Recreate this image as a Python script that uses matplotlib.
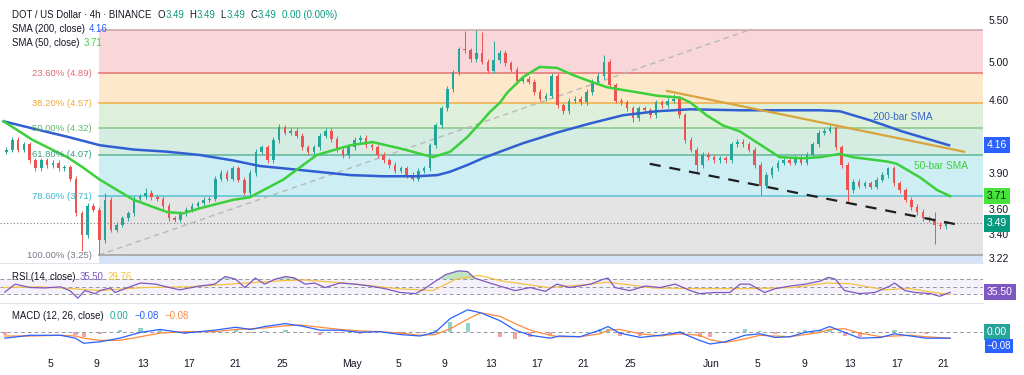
import numpy as np
import matplotlib
matplotlib.use("Agg")
import matplotlib.pyplot as plt
from matplotlib.transforms import blended_transform_factory

plt.rcParams['font.family'] = ['Liberation Sans', 'DejaVu Sans']

# ---------------- data ----------------
# half-day candles, day 0 = 1 April
closes = [4.12, 4.21, 4.12, 4.17, 4.02, 3.95, 4.02, 3.98, 4.00, 3.95,
          3.96, 3.86, 3.57, 3.40, 3.63, 3.60, 3.36, 3.68, 3.44, 3.48,
          3.53, 3.57, 3.69, 3.71, 3.74, 3.70, 3.69, 3.63, 3.53, 3.52,
          3.57, 3.60, 3.63, 3.65, 3.68, 3.69, 3.86, 3.91, 3.86, 3.95,
          3.85, 3.74, 3.91, 4.10, 4.14, 4.02, 4.21, 4.33, 4.28, 4.30,
          4.25, 4.14, 4.10, 4.14, 4.25, 4.30, 4.22, 4.12, 4.07, 4.14,
          4.21, 4.23, 4.16, 4.14, 4.07, 4.02, 3.98, 3.93, 3.95, 3.89,
          3.86, 3.93, 3.95, 4.16, 4.35, 4.52, 4.72, 4.90, 5.16, 5.15,
          5.05, 5.12, 5.02, 4.92, 5.04, 5.12, 5.00, 4.93, 4.81, 4.83,
          4.80, 4.69, 4.62, 4.65, 4.86, 4.55, 4.49, 4.60, 4.62, 4.58,
          4.69, 4.80, 4.86, 5.02, 4.76, 4.60, 4.58, 4.52, 4.42, 4.52,
          4.50, 4.45, 4.58, 4.55, 4.60, 4.62, 4.45, 4.21, 4.12, 3.98,
          4.07, 4.05, 4.02, 4.04, 4.02, 4.17, 4.19, 4.17, 4.12, 3.98,
          3.80, 3.89, 3.95, 4.00, 4.02, 4.00, 4.05, 4.00, 4.07, 4.17,
          4.28, 4.30, 4.32, 4.14, 3.98, 3.76, 3.83, 3.80, 3.82, 3.79,
          3.85, 3.89, 3.95, 3.82, 3.76, 3.68, 3.62, 3.58, 3.53, 3.52,
          3.48, 3.47, 3.49]
first_open = 4.10
wick_high = {1: 4.24, 17: 3.74, 24: 3.78, 39: 3.97, 47: 4.36, 61: 4.26,
             79: 5.38, 81: 5.39, 82: 5.37, 84: 5.26, 103: 5.10, 115: 4.67,
             142: 4.35, 152: 3.96, 160: 3.58}
wick_low = {13: 3.28, 16: 3.25, 18: 3.42, 108: 4.38, 119: 3.92, 130: 3.72,
            145: 3.65, 160: 3.33}

sma200_day = [0, 2.5, 5.5, 8.3, 11.2, 14.1, 16.9, 19.8, 22.1, 24.1, 27.0, 29.9,
              32.7, 35.6, 37.4, 38.5, 40.0, 41.3, 42.8, 44.8, 47.7, 50.6, 53.4,
              56.3, 59.2, 63.5, 66.1, 70.4, 72.1, 74.7, 77.5, 81.5]
sma200_val = [4.39, 4.32, 4.24, 4.16, 4.12, 4.10, 4.07, 4.02, 3.97, 3.95, 3.92, 3.89,
              3.88, 3.88, 3.89, 3.92, 3.98, 4.04, 4.10, 4.18, 4.28, 4.37, 4.45,
              4.49, 4.51, 4.50, 4.50, 4.50, 4.49, 4.40, 4.29, 4.16]
sma50_day = [0, 2.5, 5.5, 6.8, 8.3, 11.2, 14.1, 15.5, 16.9, 19.8, 21.2, 24.1,
             27.0, 29.9, 31.8, 34.2, 37.0, 38.5, 40.0, 41.3, 41.9, 42.8, 43.4,
             44.8, 46.2, 47.7, 49.1, 50.6, 52.0, 53.4, 54.9, 56.3, 58.3, 59.2,
             60.6, 62.0, 63.5, 64.6, 66.9, 68.9, 70.4, 72.1, 73.2, 76.2, 77.0,
             79.0, 80.5, 81.6]
sma50_val = [4.39, 4.21, 4.05, 3.96, 3.85, 3.68, 3.58, 3.57, 3.61, 3.68, 3.70, 3.85,
             4.07, 4.16, 4.19, 4.13, 4.05, 4.10, 4.24, 4.40, 4.48, 4.58, 4.68,
             4.85, 4.96, 4.95, 4.87, 4.80, 4.74, 4.71, 4.68, 4.65, 4.63, 4.58,
             4.45, 4.35, 4.29, 4.21, 4.05, 4.04, 4.05, 4.08, 4.05, 4.01, 3.99,
             3.87, 3.76, 3.71]

fib_ratio = ["0.00%", "23.60%", "38.20%", "50.00%", "61.80%", "78.60%", "100.00%"]
fib_price = [5.39, 4.89, 4.57, 4.32, 4.07, 3.71, 3.25]
fib_start_day = 8.2

resistance_day = [57.2, 82.8]
resistance_price = [4.70, 4.10]
support_day = [55.7, 82.0]
support_price = [3.99, 3.485]
rising_day = [8.2, 64.5]
rising_price = [3.25, 5.40]
last_price = 3.49

rsi_day = [0.1, 1.0, 2.3, 3.6, 4.9, 5.7, 6.4, 7.0, 7.9, 8.3, 9.2, 9.6, 10.9, 11.8,
           13.1, 14.3, 15.2, 16.9, 18.2, 19.1, 20.0, 20.8, 21.7, 22.5, 23.4, 24.3,
           25.1, 26.0, 26.8, 27.7, 29.0, 30.3, 31.6, 32.9, 34.2, 35.5, 36.3, 37.0,
           38.1, 39.2, 40.0, 40.6, 41.9, 43.2, 44.1, 45.4, 46.7, 47.7, 48.8, 50.6,
           51.7, 52.1, 52.7, 54.0, 55.3, 56.6, 57.9, 59.2, 60.0, 61.3, 62.6, 63.5,
           64.3, 65.6, 66.5, 67.8, 69.1, 70.4, 71.1, 71.7, 72.5, 73.8, 75.1, 76.4,
           76.8, 77.7, 78.6, 79.9, 80.7, 81.6]
rsi_val = [36, 57, 48, 47, 50, 40, 20, 40, 32, 40, 47, 35, 50, 60,
           57, 48, 42, 52, 57, 77, 70, 48, 73, 57, 70, 77,
           73, 57, 60, 48, 60, 57, 52, 45, 35, 32, 45, 60,
           82, 92, 90, 73, 60, 48, 40, 48, 38, 57, 48, 57,
           70, 73, 48, 40, 52, 48, 57, 40, 32, 35, 35, 57,
           57, 35, 45, 52, 57, 65, 75, 70, 40, 32, 35, 52,
           60, 40, 35, 32, 25, 35.5]
rsi_ma_day = [0, 3, 6, 8.3, 12, 16, 20, 24, 26, 30, 34, 37, 39, 41, 43, 47, 50,
              52, 54, 56, 60, 64, 68, 71, 73, 76, 78, 80, 81.6]
rsi_ma_val = [48, 50, 45, 40, 48, 50, 58, 66, 68, 58, 45, 40, 70, 80, 65, 48, 55,
              62, 55, 47, 45, 45, 48, 60, 58, 42, 46, 36, 29.76]

macd_day = [0.1, 2.3, 4.9, 6.2, 6.9, 8.3, 10.0, 11.8, 13.5, 15.6, 18.2, 20.0, 21.3,
            22.5, 24.3, 25.6, 27.3, 29.0, 30.7, 32.4, 34.2, 35.9, 37.2, 38.5, 40.0,
            41.1, 42.8, 44.1, 45.4, 47.1, 47.9, 49.7, 51.4, 52.1, 53.1, 54.9, 56.6,
            58.3, 60.0, 60.9, 62.2, 63.9, 65.2, 66.5, 67.8, 69.1, 70.4, 71.2, 72.5,
            73.8, 75.6, 76.8, 78.2, 79.5, 81.6]
macd_val = [-0.08, -0.04, -0.04, -0.08, -0.15, -0.13, -0.08, 0.00, 0.04, -0.01, 0.03,
            0.07, 0.04, 0.08, 0.12, 0.09, 0.03, 0.03, 0.00, 0.01, -0.03, -0.05, 0.00,
            0.19, 0.31, 0.27, 0.16, 0.03, -0.04, -0.08, -0.05, -0.06, 0.03, 0.08,
            -0.01, -0.07, -0.04, 0.00, -0.11, -0.16, -0.13, -0.04, -0.02, -0.07,
            -0.06, 0.00, 0.03, 0.08, 0.00, -0.08, -0.07, -0.02, -0.05, -0.08, -0.08]
signal_val = [-0.05, -0.05, -0.04, -0.05, -0.08, -0.11, -0.11, -0.06, -0.01, 0.01, 0.01,
              0.04, 0.05, 0.06, 0.09, 0.10, 0.07, 0.04, 0.02, 0.01, -0.01, -0.04, -0.03,
              0.05, 0.18, 0.27, 0.22, 0.12, 0.03, -0.04, -0.06, -0.06, -0.02, 0.03,
              0.04, -0.02, -0.05, -0.02, -0.04, -0.10, -0.14, -0.09, -0.04, -0.05,
              -0.06, -0.03, 0.00, 0.04, 0.05, -0.01, -0.06, -0.05, -0.04, -0.06, -0.08]

tick_day = [4, 8, 12, 16, 20, 24, 30, 34, 38, 42, 46, 50, 54, 61, 65, 69, 73, 77, 81]
tick_label = ["5", "9", "13", "17", "21", "25", "May", "5", "9", "13", "17", "21",
              "25", "Jun", "5", "9", "13", "17", "21"]

# ---------------- figure layout ----------------
W, H = 1024, 375
fig = plt.figure(figsize=(W / 100, H / 100), dpi=100)
fig.patch.set_facecolor('white')


def fx(px):
    return px / W


def fy(py):
    return 1 - py / H


PLOT_R = 983
ax = fig.add_axes([0, fy(262), PLOT_R / W, (262 - 4) / H])
ax_rsi = fig.add_axes([0, fy(302), PLOT_R / W, (302 - 264) / H], sharex=ax)
ax_macd = fig.add_axes([0, fy(352), PLOT_R / W, (352 - 304) / H], sharex=ax)

for a in (ax, ax_rsi, ax_macd):
    for s in a.spines.values():
        s.set_visible(False)
    a.tick_params(left=False, right=False, labelleft=False, bottom=False,
                  labelbottom=False)
    a.set_facecolor('white')

ax.set_xlim(-0.31, 84.43)
ax.set_yscale('log')
ax.set_ylim(3.20, 5.714)
ax.yaxis.set_major_locator(matplotlib.ticker.NullLocator())
ax.yaxis.set_minor_locator(matplotlib.ticker.NullLocator())

# ---------------- fib retracement ----------------
band_colors = ['#f9d6d9', '#fde8cc', '#dff0da', '#d5ece2', '#cdeff4', '#e4e4e4']
line_colors = ['#c9a3a6', '#e57373', '#f2ad45', '#86c88a', '#5cb596', '#55c3d4', '#9e9e9e']
label_colors = ['#e06b78', '#e06b78', '#f0a83a', '#5fb86a', '#3a9e80', '#35b9cf', '#787b86']
x_end = 84.43
for k in range(len(fib_price) - 1):
    ax.fill_between([fib_start_day, x_end], fib_price[k + 1], fib_price[k],
                    color=band_colors[k], lw=0, zorder=0)
ax.fill_between([fib_start_day, x_end], 3.0, fib_price[-1], color='#d6e2f7', lw=0, zorder=0)
for k, p in enumerate(fib_price):
    ax.plot([fib_start_day, x_end], [p, p], color=line_colors[k], lw=1.1, zorder=1)
    if k > 0:
        ax.text(7.6, p, f"{fib_ratio[k]} ({p:.2f})", ha='right', va='center',
                fontsize=6.8, color=label_colors[k], zorder=6)

# current price dotted line
ax.axhline(last_price, color='#787b86', lw=0.8, ls=(0, (1, 2)), zorder=2)

# rising dashed gray line
ax.plot(rising_day, rising_price, color='#b8b8b8', lw=1.0, ls=(0, (4, 3)), zorder=2)

# ---------------- candles ----------------
n = len(closes)
days = 0.25 + 0.5 * np.arange(n)
opens = [first_open] + closes[:-1]
up_c, dn_c = '#26a69a', '#ef5350'
for i in range(n):
    o, c = opens[i], closes[i]
    col = up_c if c >= o else dn_c
    hi = wick_high.get(i, max(o, c) * 1.006)
    lo = wick_low.get(i, min(o, c) * 0.994)
    ax.plot([days[i], days[i]], [lo, hi], color=col, lw=0.7, zorder=3,
            solid_capstyle='butt')
    b = min(o, c)
    h = max(abs(c - o), 0.006)
    ax.bar(days[i], h, bottom=b, width=0.22, color=col, lw=0, zorder=3)

# ---------------- moving averages & trend lines ----------------
ax.plot(sma200_day, sma200_val, color='#2f5fd0', lw=1.8, zorder=4)
ax.plot(sma50_day, sma50_val, color='#3ccf3c', lw=1.8, zorder=4)
ax.plot(resistance_day, resistance_price, color='#d9a43c', lw=1.6, zorder=4)
ax.plot(support_day, support_price, color='#1e1e1e', lw=1.6, ls=(0, (5, 4)), zorder=4)

ax.text(77.5, 4.43, "200-bar SMA", color='#3a66cf', fontsize=7.3, ha='center',
        va='center', zorder=6)
ax.text(80.8, 3.97, "50-bar SMA", color='#3ccf3c', fontsize=7.3, ha='center',
        va='center', zorder=6)

# ---------------- right price scale ----------------
tr = blended_transform_factory(ax.transAxes, ax.transData)
for p, s in [(5.50, "5.50"), (5.00, "5.00"), (4.60, "4.60"), (3.90, "3.90"),
             (3.60, "3.60"), (3.40, "3.40"), (3.22, "3.22")]:
    ax.text(1.006, p, s, transform=tr, ha='left', va='center', fontsize=7.5,
            color='#131722', clip_on=False)
for p, s, fc, tc in [(4.16, "4.16", '#2962ff', 'white'),
                     (3.71, "3.71", '#47e33a', '#131722'),
                     (3.49, "3.49", '#089981', 'white')]:
    ax.text(1.004, p, s, transform=tr, ha='left', va='center', fontsize=7.5,
            color=tc, clip_on=False,
            bbox=dict(boxstyle='square,pad=0.3', fc=fc, ec='none'))

# ---------------- RSI ----------------
ax_rsi.set_ylim(10, 110)
ax_rsi.axhspan(30, 70, color='#7e57c2', alpha=0.08, lw=0)
for lvl in (70, 50, 30):
    ax_rsi.axhline(lvl, color='#9598a1', lw=0.7, ls=(0, (4, 3)))
rsi_arr = np.array(rsi_val, dtype=float)
ax_rsi.fill_between(rsi_day, 70, rsi_arr, where=rsi_arr > 70, interpolate=True,
                    color='#4caf50', alpha=0.35, lw=0)
ax_rsi.plot(rsi_ma_day, rsi_ma_val, color='#f5c242', lw=0.9)
ax_rsi.plot(rsi_day, rsi_val, color='#7e57c2', lw=0.9)
trr = blended_transform_factory(ax_rsi.transAxes, ax_rsi.transData)
ax_rsi.text(1.004, 35.5, "35.50", transform=trr, ha='left', va='center', fontsize=7.5,
            color='white', clip_on=False,
            bbox=dict(boxstyle='square,pad=0.3', fc='#7e57c2', ec='none'))

# ---------------- MACD ----------------
ax_macd.set_ylim(-0.27, 0.39)
ax_macd.axhline(0, color='#9598a1', lw=0.7, ls=(0, (4, 3)))
hist = np.array(macd_val) - np.array(signal_val)
ax_macd.bar(macd_day, hist, width=0.35,
            color=['#8fd3cb' if h >= 0 else '#f5a3a3' for h in hist], lw=0)
ax_macd.plot(macd_day, signal_val, color='#ff8a3d', lw=0.9)
ax_macd.plot(macd_day, macd_val, color='#2962ff', lw=0.9)
trm = blended_transform_factory(ax_macd.transAxes, ax_macd.transData)
ax_macd.text(1.004, 0.0, "0.00", transform=trm, ha='left', va='center', fontsize=7.5,
             color='white', clip_on=False,
             bbox=dict(boxstyle='square,pad=0.3', fc='#26a69a', ec='none'))
ax_macd.text(1.004, -0.19, "\u22120.08", transform=trm, ha='left', va='center',
             fontsize=7.0, color='white', clip_on=False,
             bbox=dict(boxstyle='square,pad=0.2', fc='#2962ff', ec='none'))

ax_macd.set_xticks(tick_day)
ax_macd.set_xticklabels(tick_label)
ax_macd.tick_params(labelbottom=True, length=0, pad=5, labelsize=7.5,
                    labelcolor='#131722')

# panel separators
for py in (263, 303):
    fig.add_artist(plt.Line2D([0, fx(PLOT_R)], [fy(py), fy(py)], color='#e0e3eb', lw=0.8))

# ---------------- legends (pieces laid out one after another) ----------------
fs = 6.9
dark = '#131722'
teal = '#089981'
renderer = fig.canvas.get_renderer()


def chain(py, parts, x0=12):
    x = x0
    for s, c, gap in parts:
        t = fig.text(fx(x), fy(py), s, fontsize=fs, color=c, va='center')
        bb = t.get_window_extent(renderer)
        x = bb.x1 + gap


chain(15, [("DOT / US Dollar · 4h · BINANCE", dark, 6), ("O", dark, 0.5),
           ("3.49", teal, 5), ("H", dark, 0.5), ("3.49", teal, 5),
           ("L", dark, 0.5), ("3.49", teal, 5), ("C", dark, 0.5),
           ("3.49", teal, 5), ("0.00 (0.00%)", teal, 0)])
chain(29, [("SMA (200, close)", dark, 4), ("4.16", '#2962ff', 0)])
chain(43, [("SMA (50, close)", dark, 4), ("3.71", '#3ccf3c', 0)])
chain(277, [("RSI (14, close)", dark, 4), ("35.50", '#7e57c2', 4),
            ("29.76", '#f5c242', 0)])
chain(316, [("MACD (12, 26, close)", dark, 6), ("0.00", '#26a69a', 6),
            ("\u22120.08", '#2962ff', 6), ("\u22120.08", '#ff8a3d', 0)])

fig.savefig("out.png", dpi=100)
